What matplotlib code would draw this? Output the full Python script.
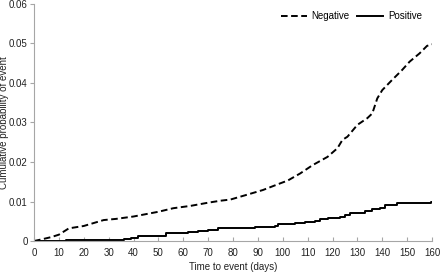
import matplotlib
matplotlib.use("Agg")
import matplotlib.pyplot as plt

plt.rcParams['font.family'] = ['Liberation Sans', 'DejaVu Sans']

neg_t = [0, 3, 7, 10, 14, 20, 28, 33, 40, 50, 56, 63, 70, 75, 79, 85, 92, 99, 102,
         107, 112, 118, 122, 124, 126, 130, 134, 136, 138, 140, 144, 148, 151, 155, 158, 160]
neg_v = [0, 0.0004, 0.0010, 0.0016, 0.0032, 0.0038, 0.0053, 0.0056, 0.0062, 0.0074,
         0.0083, 0.0089, 0.0097, 0.0102, 0.0105, 0.0116, 0.0129, 0.0146, 0.0153, 0.0171,
         0.0192, 0.0213, 0.0235, 0.0256, 0.0264, 0.0294, 0.0311, 0.0323, 0.0361, 0.0382,
         0.0408, 0.0433, 0.0454, 0.0475, 0.0494, 0.0498]

pos_t = [0, 13, 36, 39, 42, 53, 58, 62, 66, 70, 74, 82, 89, 97, 98, 105, 109, 113, 115,
         118, 123, 125, 127, 133, 136, 139, 141, 146, 159.5, 160]
pos_v = [0, 0.0003, 0.0005, 0.0008, 0.0012, 0.0019, 0.0020, 0.0022, 0.0025, 0.0029,
         0.0032, 0.0034, 0.0036, 0.0038, 0.0042, 0.0045, 0.0048, 0.0051, 0.0055, 0.0057,
         0.0062, 0.0065, 0.0072, 0.0075, 0.0081, 0.0083, 0.0090, 0.0095, 0.0100, 0.0100]

x_ticks = list(range(0, 161, 10))
y_ticks = [0, 0.01, 0.02, 0.03, 0.04, 0.05, 0.06]
y_labels = ['0', '0.01', '0.02', '0.03', '0.04', '0.05', '0.06']

fig = plt.figure(figsize=(4.4, 2.74), dpi=100)
ax = fig.add_axes([34/440, 33/274, 398/440, 237/274])

ax.plot(neg_t, neg_v, color='black', lw=1.4, ls=(0, (3.4, 1.8)), label='Negative')
ax.plot(pos_t, pos_v, color='black', lw=1.4, drawstyle='steps-post', label='Positive')

ax.set_xlim(0, 160)
ax.set_ylim(0, 0.06)
ax.set_xticks(x_ticks)
ax.set_yticks(y_ticks)
ax.set_yticklabels(y_labels)

for s in ['top', 'right']:
    ax.spines[s].set_visible(False)
for s in ['left', 'bottom']:
    ax.spines[s].set_color('#a6a6a6')
    ax.spines[s].set_linewidth(0.8)

ax.tick_params(axis='x', direction='in', length=3, width=0.8, color='#a6a6a6',
               labelsize=7, pad=5, labelcolor='#222222')
ax.tick_params(axis='y', direction='out', length=3, width=0.8, color='#a6a6a6',
               labelsize=7, pad=1.5, labelcolor='#222222')

ax.set_xlabel('Time to event (days)', fontsize=7, color='#222222', labelpad=3)
ax.set_ylabel('Cumulative probability of event', fontsize=7, color='#222222')
ax.yaxis.set_label_coords(-0.064, 0.5)

leg = ax.legend(loc='center', bbox_to_anchor=(0.797, 0.949), ncol=2, frameon=False,
                fontsize=7, handlelength=2.7, handletextpad=0.5, columnspacing=0.7,
                borderpad=0, borderaxespad=0)

fig.savefig('out.png', dpi=100)
